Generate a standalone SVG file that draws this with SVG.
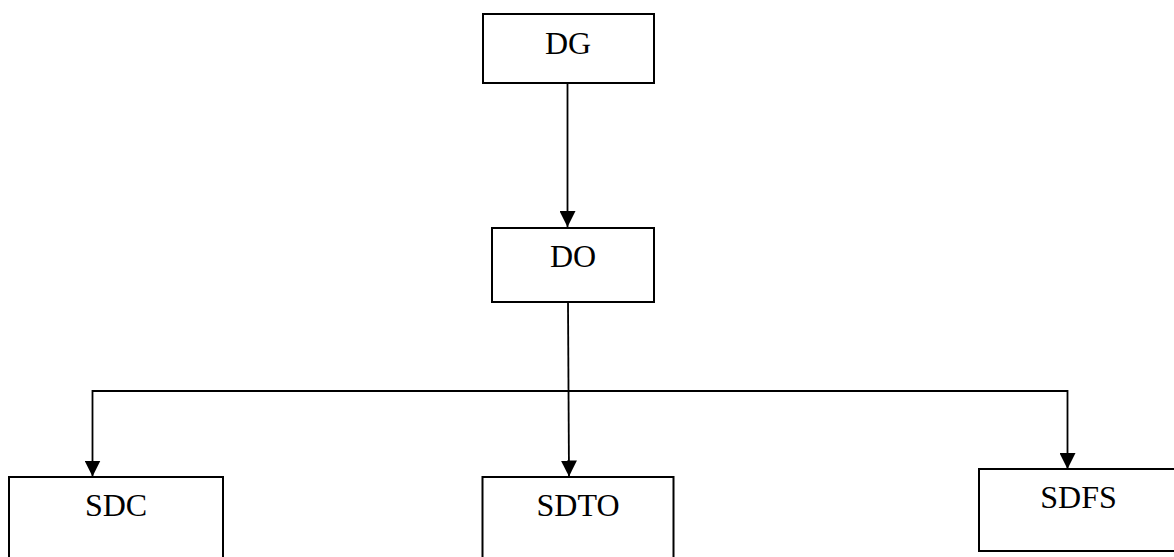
<svg xmlns="http://www.w3.org/2000/svg" width="1174" height="557" viewBox="0 0 1174 557">
  <style>
    .box { fill: #ffffff; stroke: #000000; stroke-width: 2; }
    .label { font-family: "Liberation Serif", "Times New Roman", serif; font-size: 32px; fill: #000000; text-anchor: middle; }
    .wire { fill: none; stroke: #000000; stroke-width: 1.8; stroke-linejoin: miter; }
  </style>
  <defs>
    <marker id="tip" markerUnits="userSpaceOnUse" markerWidth="16" markerHeight="16" viewBox="0 0 16 16" refX="16" refY="8" orient="auto">
      <path d="M0,0 L16,8 L0,16 Z" fill="#000000"/>
    </marker>
  </defs>

  <rect width="1174" height="557" fill="#ffffff"/>

  <g id="connectors">
    <line class="wire" x1="567.5" y1="84" x2="567.5" y2="227" marker-end="url(#tip)"/>
    <line class="wire" x1="568" y1="302" x2="569" y2="476.5" marker-end="url(#tip)"/>
    <!-- bus from the centre line out to the two outer boxes -->
    <polyline class="wire" points="568.5,391 92.5,391 92.5,476.5" marker-end="url(#tip)"/>
    <polyline class="wire" points="568.5,391 1067.5,391 1067.5,469" marker-end="url(#tip)"/>
  </g>

  <g id="node-dg">
    <rect class="box" x="483" y="14" width="171" height="69"/>
    <text class="label" x="568" y="54">DG</text>
  </g>

  <g id="node-do">
    <rect class="box" x="492" y="228" width="162" height="74"/>
    <text class="label" x="573" y="267">DO</text>
  </g>

  <g id="node-sdc">
    <rect class="box" x="9" y="477" width="214" height="90"/>
    <text class="label" x="116" y="516">SDC</text>
  </g>

  <g id="node-sdto">
    <rect class="box" x="482.5" y="477" width="191" height="90"/>
    <text class="label" x="578" y="516">SDTO</text>
  </g>

  <g id="node-sdfs">
    <rect class="box" x="979" y="469" width="200" height="82"/>
    <text class="label" x="1078.5" y="508">SDFS</text>
  </g>
</svg>
